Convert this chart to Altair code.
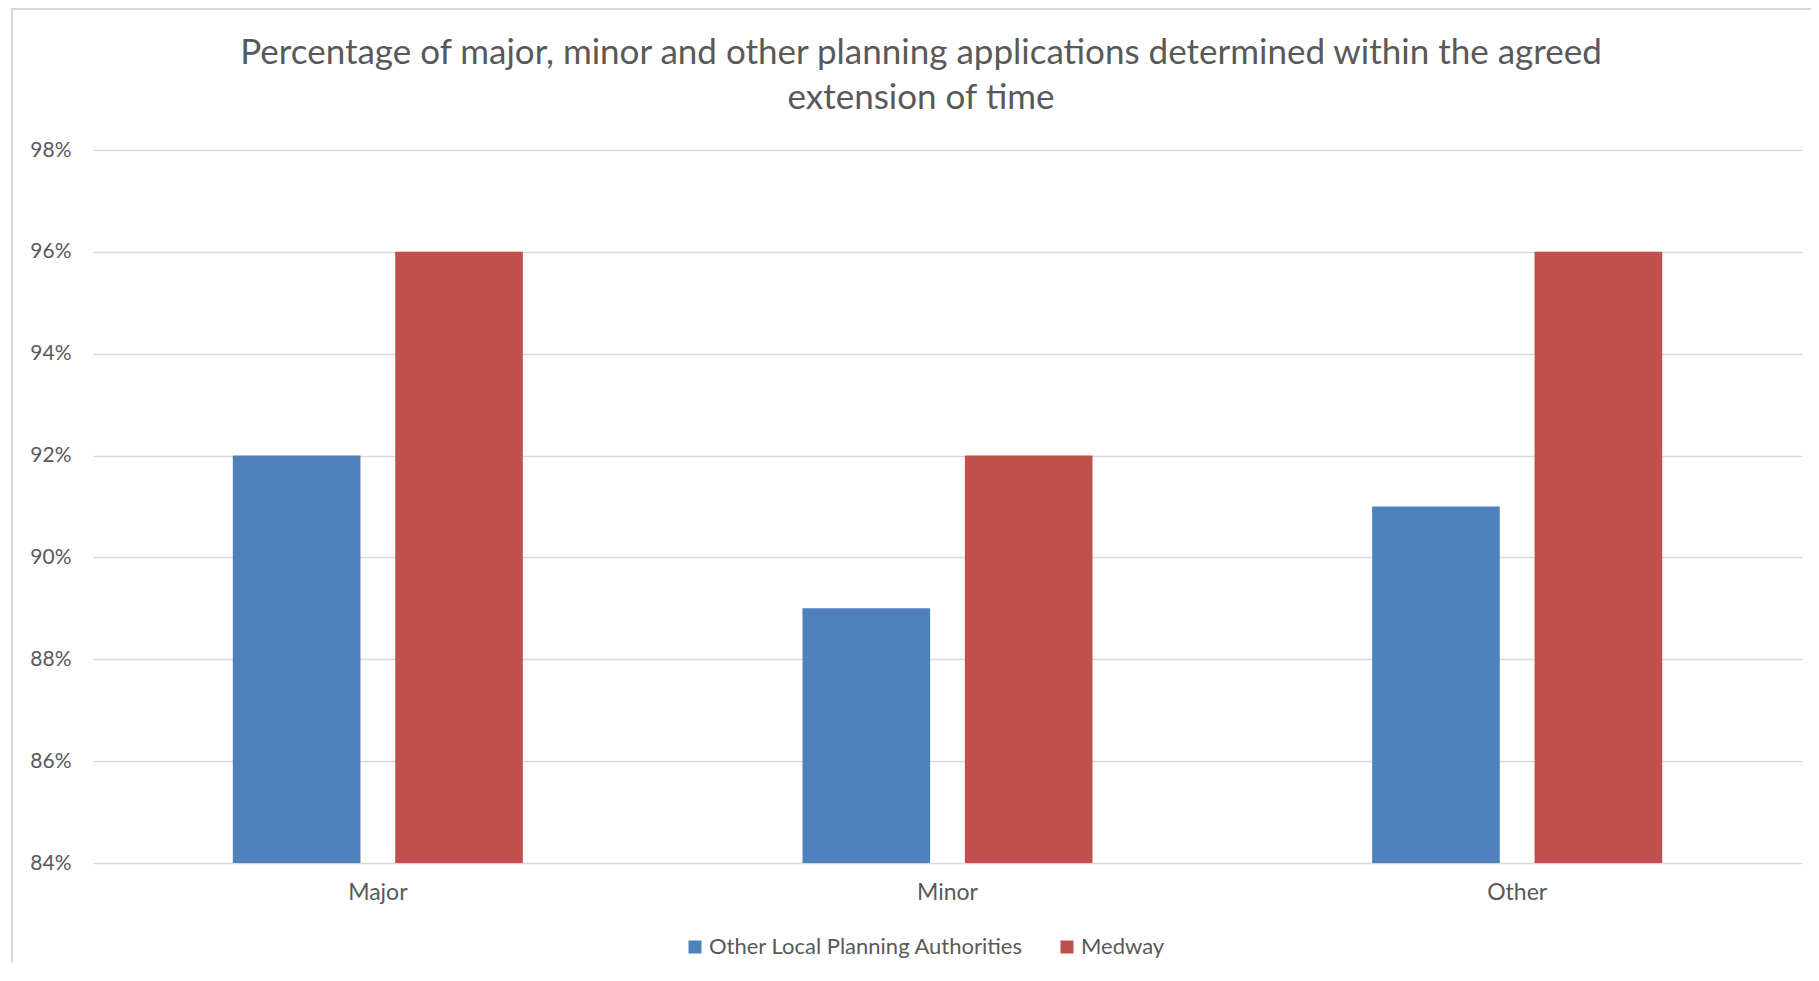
import altair as alt
import pandas as pd

categories = ["Major", "Minor", "Other"]
series_names = ["Other Local Planning Authorities", "Medway"]
other_lpa = [0.92, 0.89, 0.91]
medway = [0.96, 0.92, 0.96]
y_ticks = [0.84, 0.86, 0.88, 0.90, 0.92, 0.94, 0.96, 0.98]
colors = ["#4F81BD", "#C0504D"]
title_lines = ["Percentage of major, minor and other planning applications determined within the agreed",
               "extension of time"]

rows = []
for i, c in enumerate(categories):
    rows.append({"category": c, "series": series_names[0], "value": other_lpa[i]})
    rows.append({"category": c, "series": series_names[1], "value": medway[i]})
df = pd.DataFrame(rows)

FONT = "Lato"
TXT = "#595959"
W, H = 1709, 713

bars = alt.Chart(df).mark_bar(clip=True).encode(
    x=alt.X("category:N", sort=categories,
            scale=alt.Scale(paddingInner=0, paddingOuter=0),
            axis=alt.Axis(title=None, labelAngle=0, labelFontSize=23, labelColor=TXT,
                          labelFont=FONT, labelPadding=18, ticks=False, domain=False)),
    xOffset=alt.XOffset("series:N", sort=series_names,
                        scale=alt.Scale(paddingInner=0.214, paddingOuter=0.861)),
    y=alt.Y("value:Q",
            scale=alt.Scale(domain=[0.84, 0.98], zero=False, nice=False),
            axis=alt.Axis(title=None, format=".0%", values=y_ticks, labelFontSize=21,
                          labelColor=TXT, labelFont=FONT, labelPadding=22, ticks=False,
                          domain=False, grid=True, gridColor="#d9d9d9", gridWidth=1.5)),
    color=alt.Color("series:N", sort=series_names,
                    scale=alt.Scale(domain=series_names, range=colors),
                    legend=alt.Legend(title=None, orient="none", direction="horizontal",
                                      legendX=591, legendY=786, symbolType="square",
                                      symbolSize=169, symbolStrokeWidth=0,
                                      labelFontSize=22, labelColor=TXT, labelFont=FONT,
                                      labelLimit=0, columnPadding=32, labelOffset=3)),
)

border_df = pd.DataFrame({"k": [0]})
left_border = alt.Chart(border_df).mark_rule(color="#d9d9d9", strokeWidth=2).encode(
    x=alt.value(-81), y=alt.value(-142), y2=alt.value(H + 120)
)
top_border = alt.Chart(border_df).mark_rule(color="#d9d9d9", strokeWidth=2).encode(
    x=alt.value(-81), x2=alt.value(W + 20), y=alt.value(-141)
)

title1 = alt.Chart(pd.DataFrame({"t": [title_lines[0]]})).mark_text(
    font=FONT, fontSize=35, color=TXT, align="center", baseline="alphabetic"
).encode(text="t:N", x=alt.value(828), y=alt.value(-86))
title2 = alt.Chart(pd.DataFrame({"t": [title_lines[1]]})).mark_text(
    font=FONT, fontSize=35, color=TXT, align="center", baseline="alphabetic"
).encode(text="t:N", x=alt.value(828), y=alt.value(-41))

chart = alt.layer(left_border, top_border, title1, title2, bars).properties(
    width=W, height=H,
    background="white",
    autosize=alt.AutoSizeParams(type="none"),
    padding={"left": 85, "top": 142, "right": 9, "bottom": 100},
).configure_view(strokeWidth=0, stroke=None)

chart.save("out.html", embed_options={"renderer": "svg", "actions": False})
